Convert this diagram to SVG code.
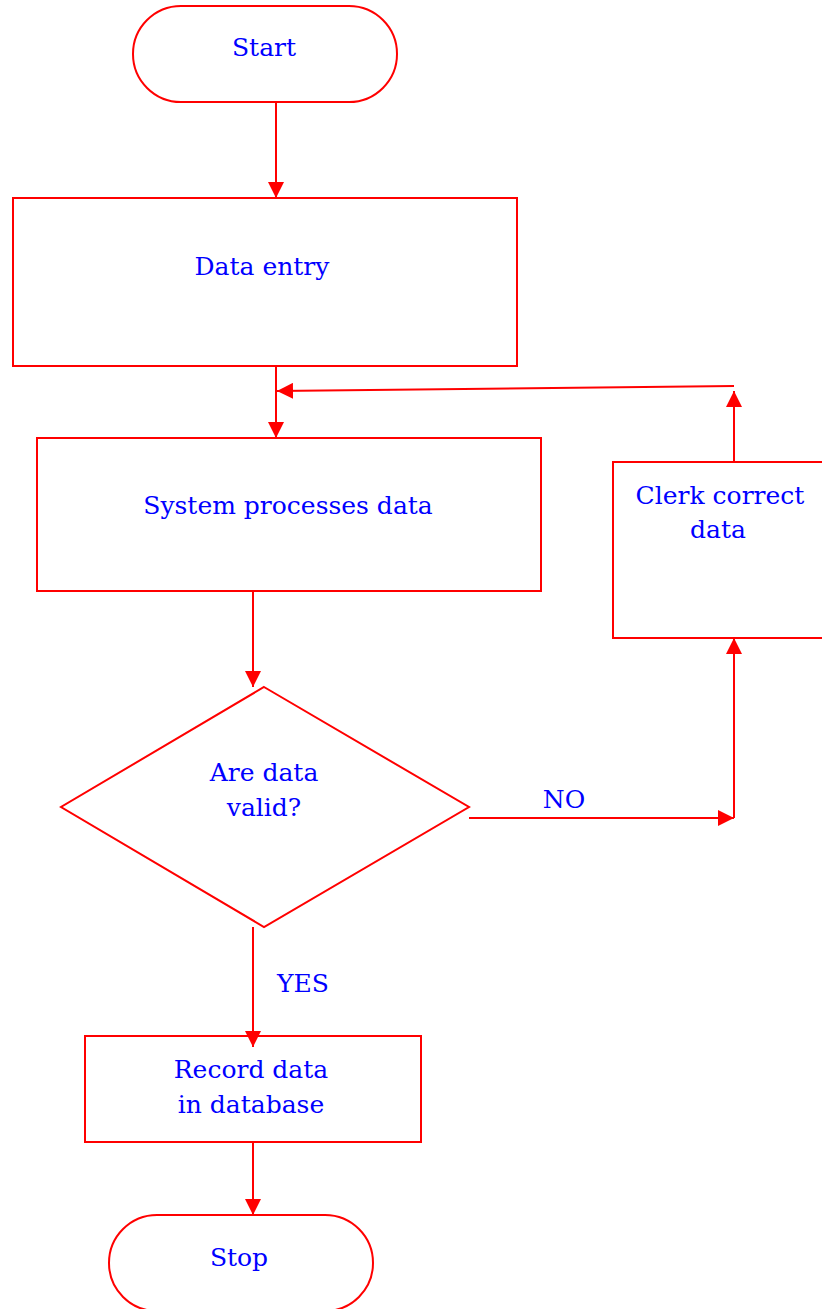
<svg xmlns="http://www.w3.org/2000/svg" width="822" height="1309" viewBox="0 0 822 1309">
<style>
.s{fill:#fff;stroke:#f00;stroke-width:2}
.c{fill:none;stroke:#f00;stroke-width:2}
.t{font-family:"DejaVu Serif","Liberation Serif",serif;font-size:25px;fill:#0000ff;text-anchor:middle}
</style>
<defs>
<marker id="ah" markerUnits="userSpaceOnUse" markerWidth="16" markerHeight="16" refX="16" refY="8" orient="auto" viewBox="0 0 16 16">
<path d="M0,0 L16,8 L0,16 z" fill="#f00"/>
</marker>
</defs>
<g id="start"><rect class="s" x="133" y="6" width="264" height="96" rx="48"/><text class="t" x="264" y="56">Start</text></g>
<g id="entry"><rect class="s" x="13" y="198" width="504" height="168"/><text class="t" x="262" y="275">Data entry</text></g>
<g id="process"><rect class="s" x="37" y="438" width="504" height="153"/><text class="t" x="288" y="514">System processes data</text></g>
<g id="decision"><polygon class="s" points="264,687 469,807 264,927 61,807"/><text class="t" x="264" y="781">Are data</text><text class="t" x="264" y="816">valid?</text></g>
<g id="clerk"><rect class="s" x="613" y="462" width="220" height="176"/><text class="t" x="720" y="504">Clerk correct</text><text class="t" x="718" y="538">data</text></g>
<g id="record"><rect class="s" x="85" y="1036" width="336" height="106"/><text class="t" x="251" y="1078">Record data</text><text class="t" x="251" y="1113">in database</text></g>
<g id="stop"><rect class="s" x="109" y="1215" width="264" height="96" rx="48"/><text class="t" x="239" y="1266">Stop</text></g>
<g id="connectors">
<line class="c" x1="276" y1="102" x2="276" y2="198" marker-end="url(#ah)"/>
<line class="c" x1="276" y1="366" x2="276" y2="438" marker-end="url(#ah)"/>
<line class="c" x1="253" y1="591" x2="253" y2="687" marker-end="url(#ah)"/>
<line class="c" x1="469" y1="818" x2="734" y2="818" marker-end="url(#ah)"/>
<line class="c" x1="734" y1="818" x2="734" y2="638" marker-end="url(#ah)"/>
<line class="c" x1="734" y1="462" x2="734" y2="391" marker-end="url(#ah)"/>
<line class="c" x1="734" y1="386" x2="277" y2="391" marker-end="url(#ah)"/>
<line class="c" x1="253" y1="927" x2="253" y2="1047" marker-end="url(#ah)"/>
<line class="c" x1="253" y1="1142" x2="253" y2="1215" marker-end="url(#ah)"/>
<text class="t" x="564" y="808">NO</text>
<text class="t" x="303" y="992">YES</text>
</g>
</svg>
